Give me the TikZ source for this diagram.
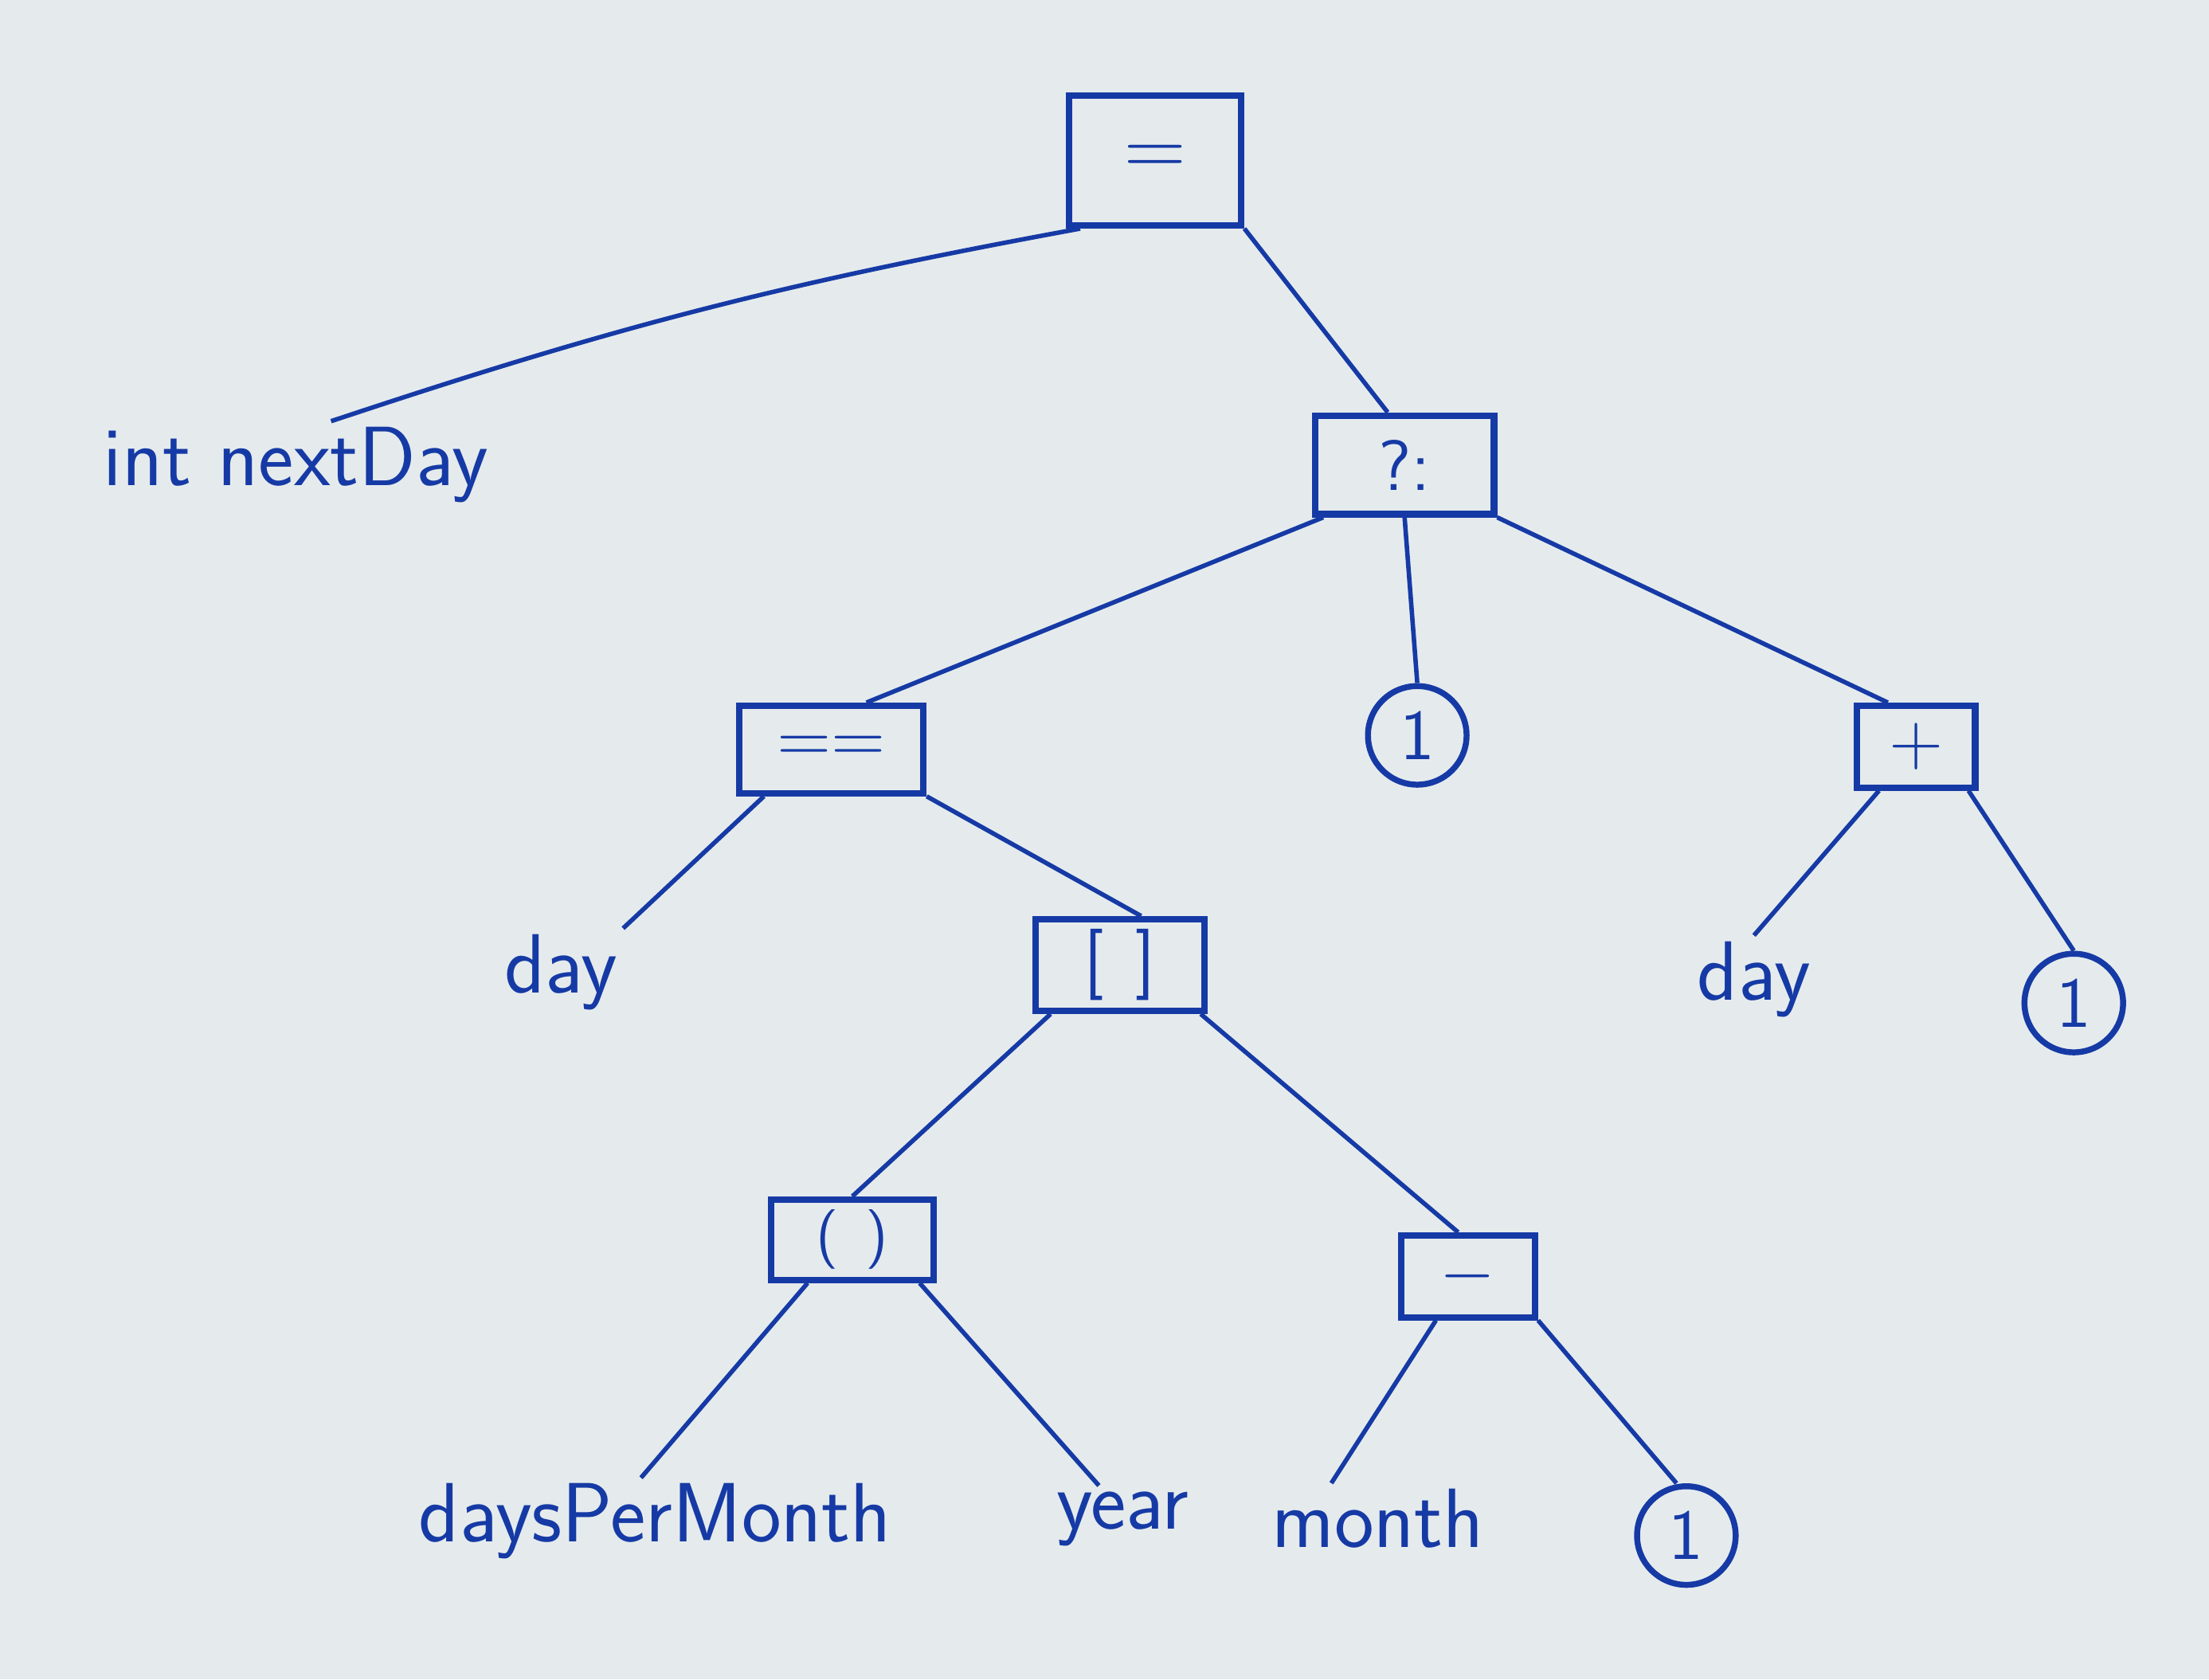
\documentclass[tikz,border=0pt]{standalone}
\usepackage{tikz}
\usetikzlibrary{positioning}
\definecolor{ink}{RGB}{22,58,165}
\definecolor{paper}{RGB}{229,235,237}

\begin{document}
\begin{tikzpicture}[
    op/.style={draw=ink, line width=1.3pt, text=ink, font=\sffamily\Large,
               minimum width=#1, minimum height=0.62cm, inner sep=1pt},
    op/.default=1.2cm,
    lit/.style={draw=ink, circle, line width=1.2pt, text=ink, font=\sffamily\Large,
                minimum size=0.7cm, inner sep=0pt},
    leaf/.style={text=ink, font=\sffamily\fontsize{17}{20}\selectfont, inner sep=1pt},
    edge/.style={ink, line width=0.9pt}
  ]
    % paper and bounding box
    \fill[paper] (0,0) rectangle (15.68,11.92);
    \useasboundingbox (0,0) rectangle (15.68,11.92);

    % operator boxes
    \node[op=1.22cm, minimum height=0.92cm, font=\LARGE] (assign) at (8.20,10.78) {$=$};
    \node[op=1.27cm, minimum height=0.70cm] (cond) at (9.97,8.62) {?:};
    \node[op=1.31cm] (cmp) at (5.90,6.60) {$==$};
    \node[op=0.84cm, minimum height=0.58cm] (plus) at (13.60,6.62) {$+$};
    \node[op=1.20cm, minimum height=0.65cm] (index) at (7.95,5.07) {[\;\,]};
    \node[op=1.15cm, minimum height=0.57cm, font=\sffamily\large] (call) at (6.05,3.12) {(\;\,)};
    \node[op=0.95cm, minimum height=0.58cm] (minus) at (10.42,2.86) {$-$};

    % literals
    \node[lit] (oneA) at (10.06,6.70) {1};
    \node[lit] (oneB) at (14.72,4.80) {1};
    \node[lit] (oneC) at (11.97,1.02) {1};

    % names
    \node[leaf] (decl) at (2.10,8.62) {int nextDay};
    \node[leaf] (dayA) at (3.98,5.02) {day};
    \node[leaf] (dayB) at (12.45,4.97) {day};
    \node[leaf] (dpm) at (4.65,1.12) {daysPerMonth};
    \node[leaf] (year) at (7.97,1.14) {year};
    \node[leaf] (month) at (9.78,1.14) {month};

    % edges
    \draw[edge] ([xshift=0.1cm]assign.south west) to[bend right=4] ([xshift=0.25cm]decl.north);
    \draw[edge] (assign.south east) -- ([xshift=-0.12cm]cond.north);
    \draw[edge] ([xshift=0.08cm]cond.south west) -- ([xshift=0.25cm]cmp.north);
    \draw[edge] (cond.south) -- (oneA.north);
    \draw[edge] (cond.south east) -- ([xshift=-0.2cm]plus.north);
    \draw[edge] ([xshift=0.2cm]cmp.south west) -- (dayA.north east);
    \draw[edge] (cmp.south east) -- ([xshift=0.15cm]index.north);
    \draw[edge] ([xshift=0.18cm]plus.south west) -- (dayB.north);
    \draw[edge] ([xshift=-0.07cm]plus.south east) -- (oneB.north);
    \draw[edge] ([xshift=0.13cm]index.south west) -- (call.north);
    \draw[edge] ([xshift=-0.05cm]index.south east) -- ([xshift=-0.07cm]minus.north);
    \draw[edge] ([xshift=0.28cm]call.south west) -- ([xshift=-0.1cm]dpm.north);
    \draw[edge] ([xshift=-0.12cm]call.south east) -- ([xshift=-0.17cm]year.north);
    \draw[edge] ([xshift=0.27cm]minus.south west) -- ([xshift=-0.33cm]month.north);
    \draw[edge] (minus.south east) -- ([xshift=-0.07cm]oneC.north);
  \end{tikzpicture}
\end{document}
